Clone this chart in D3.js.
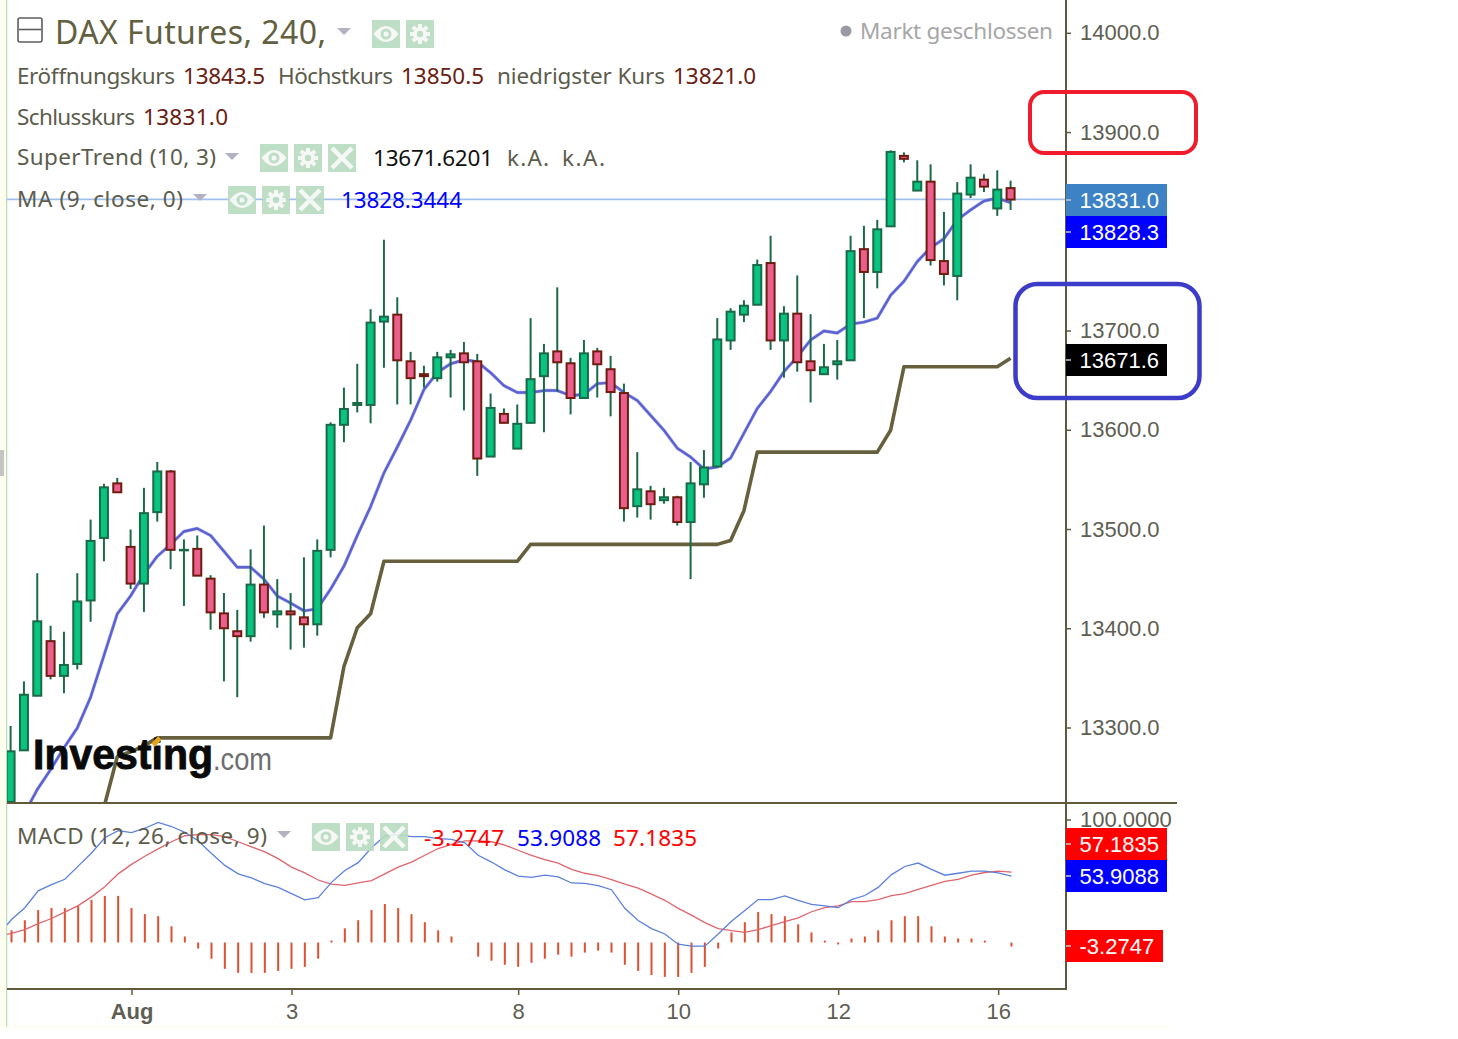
<!DOCTYPE html>
<html><head><meta charset="utf-8">
<script src="https://cdnjs.cloudflare.com/ajax/libs/d3/7.8.5/d3.min.js"></script>
<style>html,body{margin:0;padding:0;background:#fff}svg{display:block}</style>
</head><body><div id="chart"></div>
<script>
const opens=[13224,13276,13331,13387,13351,13363,13427,13490,13546,13482,13444,13516,13558,13478,13480,13450,13415,13397,13391,13444,13413,13417,13411,13403,13478,13604,13624,13624,13708,13716,13669,13656,13651,13672,13677,13669,13572,13616,13580,13606,13653,13679,13667,13631,13679,13661,13637,13522,13538,13528,13532,13506,13544,13562,13689,13715,13725,13768,13689,13717,13669,13655,13665,13669,13782,13758,13804,13876,13840,13850,13770,13754,13836,13852,13822,13843.5];
const highs=[13301,13346,13455,13402,13396,13455,13509,13545,13551,13499,13541,13567,13559,13489,13493,13453,13435,13418,13479,13503,13449,13435,13471,13489,13607,13642,13666,13721,13791,13733,13678,13664,13678,13680,13688,13676,13636,13621,13625,13712,13686,13743,13672,13690,13682,13674,13646,13577,13543,13541,13533,13567,13579,13712,13722,13730,13771,13795,13724,13755,13716,13686,13690,13795,13805,13811,13881,13879,13871,13867,13819,13849,13867,13857,13861,13850.5];
const lows=[13224,13276,13331,13348,13334,13358,13406,13467,13536,13439,13416,13507,13459,13422,13452,13398,13346,13330,13386,13410,13400,13378,13380,13392,13471,13587,13617,13606,13662,13625,13625,13642,13648,13632,13619,13553,13572,13606,13580,13606,13597,13638,13615,13631,13632,13613,13507,13511,13509,13525,13503,13449,13531,13562,13680,13708,13725,13680,13652,13658,13627,13655,13650,13669,13712,13742,13804,13869,13840,13765,13745,13730,13833,13839,13815,13821];
const closes=[13276,13333,13407,13351,13363,13427,13488,13542,13536,13444,13516,13558,13478,13479,13452,13415,13399,13391,13444,13415,13417,13413,13403,13478,13605,13621,13627,13708,13714,13669,13651,13653,13673,13676,13667,13570,13622,13606,13606,13651,13677,13667,13631,13677,13665,13637,13520,13540,13524,13532,13506,13546,13562,13691,13719,13725,13766,13689,13717,13667,13659,13663,13669,13780,13758,13802,13880,13872,13850,13770,13756,13838,13854,13844,13842,13831];
const maValues=[13187,13212,13237,13257,13279,13299,13330,13372,13414,13432,13454,13472,13484,13497,13500,13493,13477,13461,13461,13449,13432,13425,13417,13419,13439,13462,13493,13522,13556,13582,13609,13640,13657,13666,13670,13668,13657,13644,13637,13637,13639,13639,13634,13635,13646,13647,13637,13629,13614,13599,13581,13572,13560,13562,13571,13596,13621,13638,13658,13673,13690,13699,13697,13706,13708,13712,13735,13749,13769,13783,13792,13811,13821,13830,13833,13828.3444];
const superTrend=[null,null,null,null,null,null,null,13219,13270,13275,13281,13289,13289,13289,13289,13289,13289,13289,13289,13289,13289,13289,13289,13289,13289,13361,13400,13414,13467,13467,13467,13467,13467,13467,13467,13467,13467,13467,13467,13484,13484,13484,13484,13484,13484,13484,13484,13484,13484,13484,13484,13484,13484,13484,13488,13518,13577,13577,13577,13577,13577,13577,13577,13577,13577,13577,13599,13663,13663,13663,13663,13663,13663,13663,13663,13671.6201];
const macdHist=[9.9,18.1,26.4,28,28,29.7,34.6,37.9,37.9,28,23.1,21.4,13.2,4.9,-4.9,-13.2,-21.4,-24.7,-24.7,-24.7,-23.1,-21.4,-19.8,-13.2,1.6,11.5,18.1,26.4,31.3,28,23.1,16.5,9.9,4.9,0,-11.5,-14.8,-18.1,-19.8,-16.5,-13.2,-9.9,-11.5,-8.2,-6.6,-8.2,-18.1,-23.1,-26.4,-28,-28,-24.7,-19.8,-4.9,8.2,16.5,24.7,23.1,21.4,14.8,8.2,1.6,-1.6,3.3,4.9,9.9,18.1,21.4,21.4,13.2,4.9,3.3,3.3,1.6,0,-3.2747];
// first element of the two MACD lines belongs to the bar just left of the pane
const macdLine=[5.8,18.7,28.3,42,47,51.4,62.1,72.8,85.2,91,89.3,92.9,97.6,94.3,89.6,82.7,72.3,62.7,55.8,52.5,47.8,44.8,39.8,34.6,36.5,48.9,58.5,64.9,77,86.6,87.7,86,86,84.4,83.8,81.1,70.9,65.4,59.1,53.9,53,54.7,53.3,48.4,48.1,46.2,42.9,27.8,17.9,11.3,6.9,-1.4,-3,-3,6.9,17.3,26.1,34.9,34.9,37.9,34.3,31,29.7,28.3,34.9,38.2,44.8,55.2,61.8,64.6,59.4,54.7,56.3,58,58,56.6,53.9088];
const signalLine=[5.2,7.4,10.4,15.4,19.5,24.7,30,37.1,45.3,55.8,63.5,70.1,76.1,81.9,86.8,87.7,87.7,86,81.9,77.8,73.7,68.2,61.3,56.6,50.8,47.5,46.4,48.4,50.3,55.8,61.3,65.4,70.9,76.4,79.7,82.7,82.7,81.9,79.2,75,70.9,67.3,64.6,59.4,56.3,54.4,51.1,47.5,44.2,39.3,34.3,27.8,22.3,16.2,11.3,9.6,8.2,10.4,13.7,17,20.1,25,28.3,29.7,33.2,33.2,34.9,38.2,39.8,43.1,46.4,49.7,51.4,54.7,56.9,58,57.1835];
const priceTicks=[14000,13900,13800,13700,13600,13500,13400,13300];
const macdTicks=[100];
const xTickIndex=[9,21,38,50,62,74];
const xTickLabels=["Aug","3","8","10","12","16"];

const W=1458,H=1039;
const svg=d3.select("#chart").append("svg").attr("width",W).attr("height",H).attr("viewBox",`0 0 ${W} ${H}`);
const AX="#5f5a3c",TXT="#5e5e52",SANS='"Noto Sans",sans-serif',ARIAL='"Liberation Sans",Arial,sans-serif';

const x=d3.scaleLinear().domain([0,75]).range([10.6,1010.6]);
const xOff=i=>x(i)+0.9;
const y=d3.scaleLinear().domain([13300,14000]).range([727,32.3]);
const ym=d3.scaleLinear().domain([0,100]).range([942.5,819.5]);

// left browser strip
svg.append("rect").attr("x",0).attr("y",0).attr("width",6).attr("height",1027).attr("fill","#fffff0");
svg.append("rect").attr("x",6).attr("y",0).attr("width",1.3).attr("height",1027).attr("fill","#b9e0bd");
svg.append("rect").attr("x",0).attr("y",450).attr("width",4).attr("height",26).attr("fill","#c4c4c4");
svg.append("rect").attr("x",7).attr("y",1026).attr("width",1165).attr("height",1).attr("fill","#fffde8");

const defs=svg.append("defs");
defs.append("clipPath").attr("id","cMain").append("rect").attr("x",7).attr("y",0).attr("width",1059).attr("height",803);
defs.append("clipPath").attr("id","cMacd").append("rect").attr("x",7).attr("y",803).attr("width",1059).attr("height",186);

const main=svg.append("g").attr("clip-path","url(#cMain)");
main.append("line").attr("x1",7).attr("x2",1066).attr("y1",y(13831)-0.6).attr("y2",y(13831)-0.6).attr("stroke","#9fc0ec").attr("stroke-width",1.6);

const st=d3.line().defined(d=>d!==null).x((d,i)=>x(i)).y(d=>y(d));
main.append("path").datum(superTrend).attr("d",st).attr("fill","none").attr("stroke","#66603f").attr("stroke-width",3.6).attr("stroke-linejoin","round");
const maPath=d3.line().x((d,i)=>x(i)).y(d=>y(d));
main.append("path").datum(maValues).attr("d",maPath).attr("fill","none").attr("stroke","#a8bff0").attr("stroke-width",3.4).attr("stroke-linejoin","round");
main.append("path").datum(maValues).attr("d",maPath).attr("fill","none").attr("stroke","#5f5fd2").attr("stroke-width",2.4).attr("stroke-linejoin","round");

const idx=d3.range(opens.length);
main.append("g").selectAll("line").data(idx).join("line")
  .attr("x1",i=>x(i)).attr("x2",i=>x(i)).attr("y1",i=>y(highs[i])).attr("y2",i=>y(lows[i]))
  .attr("stroke","#1a6a48").attr("stroke-width",2);
main.append("g").selectAll("rect").data(idx).join("rect")
  .attr("x",i=>x(i)-4).attr("width",8)
  .attr("y",i=>y(Math.max(opens[i],closes[i]))+0.5)
  .attr("height",i=>Math.max(y(Math.min(opens[i],closes[i]))-y(Math.max(opens[i],closes[i]))-1,0.5))
  .attr("fill",i=>closes[i]>=opens[i]?"#08c480":"#ea5f8c")
  .attr("stroke",i=>closes[i]>=opens[i]?"#1a6a48":"#6e1c10").attr("stroke-width",2);

// logo
const logo=svg.append("g");
logo.append("text").attr("x",33).attr("y",769).attr("textLength",180).attr("lengthAdjust","spacingAndGlyphs").attr("font-family",ARIAL).attr("font-weight",700).attr("font-size",42).attr("fill","#0a0a0a").attr("stroke","#0a0a0a").attr("stroke-width",0.9).text("Investing");
logo.append("line").attr("x1",153).attr("y1",745).attr("x2",160).attr("y2",738).attr("stroke","#e5a41c").attr("stroke-width",5);
logo.append("text").attr("x",213).attr("y",770).attr("textLength",59).attr("lengthAdjust","spacingAndGlyphs").attr("font-family",ARIAL).attr("font-size",31).attr("fill","#6e6e6e").text(".com");

// MACD pane
const mp=svg.append("g").attr("clip-path","url(#cMacd)");
mp.append("g").selectAll("line").data(idx.filter(i=>macdHist[i]!==0)).join("line")
  .attr("x1",i=>xOff(i)).attr("x2",i=>xOff(i)).attr("y1",ym(0)).attr("y2",i=>ym(macdHist[i]))
  .attr("stroke","#df5030").attr("stroke-width",2);
const ml=d3.line().x((d,i)=>xOff(i-1)).y(d=>ym(d));
mp.append("path").datum(signalLine).attr("d",ml).attr("fill","none").attr("stroke","#e0646c").attr("stroke-width",1.3);
mp.append("path").datum(macdLine).attr("d",ml).attr("fill","none").attr("stroke","#5c80dc").attr("stroke-width",1.3);

// frame
svg.append("line").attr("x1",1066).attr("x2",1066).attr("y1",0).attr("y2",990).attr("stroke",AX).attr("stroke-width",2);
svg.append("line").attr("x1",7).attr("x2",1177).attr("y1",803).attr("y2",803).attr("stroke",AX).attr("stroke-width",2);
svg.append("line").attr("x1",7).attr("x2",1066).attr("y1",989).attr("y2",989).attr("stroke",AX).attr("stroke-width",2);

// axes
function styleAxis(g){
  g.select(".domain").remove();
  g.selectAll(".tick line").attr("stroke",AX).attr("stroke-width",1.5);
  g.selectAll(".tick text").attr("fill",TXT).attr("font-family",ARIAL).attr("font-size",22);
}
svg.append("g").attr("transform","translate(1066,0.5)").call(d3.axisRight(y).tickValues(priceTicks).tickFormat(d3.format(".1f")).tickSize(5).tickPadding(9)).call(styleAxis);
svg.append("g").attr("transform","translate(1066,0)").call(d3.axisRight(ym).tickValues(macdTicks).tickFormat(d3.format(".4f")).tickSize(5).tickPadding(9)).call(styleAxis);
const xa=d3.scaleOrdinal().domain(xTickIndex).range(xTickIndex.map(xOff));
const xAxis=d3.axisBottom(xa).tickValues(xTickIndex).tickFormat((d,i)=>xTickLabels[i]).tickSize(5).tickPadding(8);
svg.append("g").attr("transform","translate(0,990)").call(xAxis).call(styleAxis).call(g=>g.selectAll(".tick text").attr("font-weight",(d,i)=>i===0?700:400));

// right value tags
const tags=[["13831.0","#3c82c4",184,101],["13828.3","#0000ff",216,101],["13671.6","#000000",344,101],["57.1835","#ff0000",828,101],["53.9088","#0000ff",860,101],["-3.2747","#ff0000",930,97]];
tags.forEach(t=>{
  svg.append("rect").attr("x",1066).attr("y",t[2]).attr("width",t[3]).attr("height",32).attr("fill",t[1]);
  svg.append("line").attr("x1",1066).attr("x2",1071).attr("y1",t[2]+16).attr("y2",t[2]+16).attr("stroke","#c8c8c8").attr("stroke-width",1.5);
  svg.append("text").attr("x",1079.5).attr("y",t[2]+24).attr("font-family",ARIAL).attr("font-size",22).attr("fill","#fff").text(t[0]);
});

// annotation boxes
svg.append("rect").attr("x",1030).attr("y",92).attr("width",166).attr("height",61).attr("rx",14).attr("fill","none").attr("stroke","#f01c2c").attr("stroke-width",4);
svg.append("rect").attr("x",1015.5).attr("y",284).attr("width",184).attr("height",114).attr("rx",22).attr("fill","none").attr("stroke","#3c3cc8").attr("stroke-width",4.5);

// legend texts
function label(s,xp,base,w,size,fill){
  svg.append("text").attr("x",xp).attr("y",base).attr("textLength",w).attr("lengthAdjust","spacing").attr("font-family",SANS).attr("font-size",size).attr("fill",fill).text(s);
}
const LBL="#5c5c4c",VAL="#6a2012";
label("DAX Futures, 240,",55,44,271,32,"#62603f");
label("Eröffnungskurs",17,83.5,158,22.5,LBL); label("13843.5",183,83.5,82,22.5,VAL);
label("Höchstkurs",278,83.5,115,22.5,LBL); label("13850.5",401,83.5,83,22.5,VAL);
label("niedrigster Kurs",497,83.5,168,22.5,LBL); label("13821.0",673,83.5,83,22.5,VAL);
label("Schlusskurs",17,125,118,22.5,LBL); label("13831.0",143,125,85,22.5,VAL);
label("SuperTrend (10, 3)",17,165,199,22.5,LBL);
label("13671.6201",373,166,120,22.5,"#111");
label("k.A.",507,166,42,22.5,LBL); label("k.A.",562,166,43,22.5,LBL);
label("MA (9, close, 0)",17,207,166,22.5,LBL);
label("13828.3444",341,208,121,22.5,"#0000ff");
label("Markt geschlossen",860,39,193,22.5,"#a6a6a6");
svg.append("circle").attr("cx",846).attr("cy",31).attr("r",5.5).attr("fill","#9a9aa6");
label("MACD (12, 26, close, 9)",17,844,250,22.5,LBL);
label("-3.2747",424,846,80,22.5,"#ff0000");
label("53.9088",517,846,84,22.5,"#0000ff");
label("57.1835",613,846,84,22.5,"#ff0000");

// minimise box
svg.append("rect").attr("x",18).attr("y",18).attr("width",24).attr("height",24).attr("rx",2).attr("fill","none").attr("stroke","#5c5c5c").attr("stroke-width",1.6);
svg.append("line").attr("x1",19).attr("x2",41).attr("y1",29.5).attr("y2",29.5).attr("stroke","#5c5c5c").attr("stroke-width",1.6);

// dropdown triangles
[[337,28],[225,153],[193,194],[277,831]].forEach(p=>{
  svg.append("path").attr("d",`M${p[0]},${p[1]}h14l-7,7z`).attr("fill","#b2b2c2");
});

// toolbar icons
const ICON="#b8dcc0";
function icon(kind,xp,yp){
  const g=svg.append("g").attr("transform",`translate(${xp},${yp})`).attr("opacity",0.9);
  g.append("rect").attr("width",28).attr("height",28).attr("fill",ICON);
  if(kind==="eye"){
    g.append("path").attr("d","M1.5,14Q14,-2 26.5,14Q14,30 1.5,14z").attr("fill","#f4f8f4");
    g.append("circle").attr("cx",14).attr("cy",14).attr("r",5.5).attr("fill",ICON);
    g.append("circle").attr("cx",14).attr("cy",14).attr("r",2.5).attr("fill","#f4f8f4");
  } else if(kind==="gear"){
    g.append("circle").attr("cx",14).attr("cy",14).attr("r",7).attr("fill","#f4f8f4");
    d3.range(0,180,45).forEach(a=>g.append("rect").attr("x",12).attr("y",4).attr("width",4).attr("height",20).attr("fill","#f4f8f4").attr("transform",`rotate(${a} 14 14)`));
    g.append("circle").attr("cx",14).attr("cy",14).attr("r",3.2).attr("fill",ICON);
  } else {
    g.append("path").attr("d","M4,4L24,24M24,4L4,24").attr("stroke","#f4f8f4").attr("stroke-width",4.5).attr("fill","none");
  }
}
icon("eye",372,20);icon("gear",406,20);
icon("eye",260,144);icon("gear",294,144);icon("x",328,144);
icon("eye",228,186);icon("gear",262,186);icon("x",296,186);
icon("eye",312,823);icon("gear",346,823);icon("x",380,823);
</script></body></html>
